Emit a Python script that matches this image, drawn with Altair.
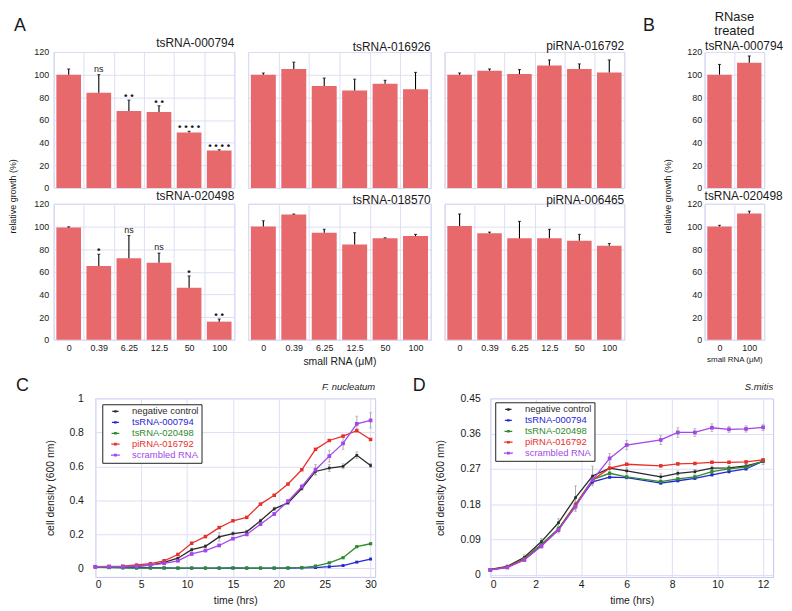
import altair as alt
import pandas as pd

FONT = "Liberation Sans"
BAR_COLOR = "#e8696b"
FRAME = "#c6c6ef"
GRID = "#dedef6"
TXT = "#1a1a1a"

# ---------------- Panel A / B data ----------------
conc = ["0", "0.39", "6.25", "12.5", "50", "100"]
conc_b = ["0", "100"]
y_ticks = [0, 20, 40, 60, 80, 100, 120]

t000794_vals = [100, 84, 68, 67, 49, 33]
t000794_err = [5, 16, 9.5, 5.5, 1, 0.7]
t000794_sig = ["", "ns", "• •", "• •", "• • • •", "• • • •"]

t016926_vals = [100, 105, 90, 86, 92, 87]
t016926_err = [1.5, 6, 7, 10, 3, 15]

p016792_vals = [100, 103.5, 100.5, 108, 105, 102]
p016792_err = [1.5, 1.5, 4, 5, 4.5, 11]

t020498_vals = [99, 65, 72, 68, 46, 16]
t020498_err = [0.7, 10.5, 20, 8.5, 10.3, 2.3]
t020498_sig = ["", "•", "ns", "ns", "•", "• •"]

t018570_vals = [100, 110.5, 94.5, 84, 89.5, 91.5]
t018570_err = [5, 0.5, 3, 10.5, 0.5, 1.5]

p006465_vals = [100.5, 94, 89.5, 89.5, 87.5, 83]
p006465_err = [10.5, 1, 15, 8, 5.5, 2]

b000794_vals = [100, 110.5]
b000794_err = [9, 6]
b020498_vals = [100, 111.5]
b020498_err = [1, 2]

# ---------------- Panel C / D data ----------------
series = ["negative control", "tsRNA-000794", "tsRNA-020498", "piRNA-016792", "scrambled RNA"]
series_colors = ["#2a2a2a", "#2626d6", "#2e8b2e", "#e8302a", "#a347e8"]
point_sizes = [7, 14, 7, 14, 8]

c_time = [0, 1.5, 3, 4.5, 6, 7.5, 9, 10.5, 12, 13.5, 15, 16.5, 18, 19.5, 21, 22.5, 24, 25.5, 27, 28.5, 30]
c_neg = [0.01, 0.008, 0.008, 0.012, 0.02, 0.035, 0.06, 0.11, 0.13, 0.185, 0.205, 0.215, 0.28, 0.35, 0.385, 0.47, 0.57, 0.59, 0.60, 0.665, 0.605]
c_t000794 = [0.01, 0.007, 0.005, 0.004, 0.004, 0.003, 0.002, 0.002, 0.002, 0.002, 0.003, 0.002, 0.002, 0.002, 0.002, 0.003, 0.005, 0.01, 0.017, 0.037, 0.055]
c_t020498 = [0.008, 0.005, 0.003, 0.002, 0.002, 0.002, 0.002, 0.002, 0.002, 0.002, 0.002, 0.002, 0.002, 0.002, 0.003, 0.005, 0.014, 0.033, 0.063, 0.128, 0.145]
c_p016792 = [0.01, 0.012, 0.013, 0.02, 0.028, 0.045, 0.082, 0.148, 0.187, 0.24, 0.28, 0.30, 0.378, 0.43, 0.496, 0.58, 0.70, 0.752, 0.778, 0.81, 0.758]
c_scram = [0.01, 0.01, 0.01, 0.013, 0.02, 0.03, 0.045, 0.085, 0.105, 0.135, 0.175, 0.20, 0.26, 0.32, 0.395, 0.48, 0.58, 0.66, 0.735, 0.85, 0.87]
c_neg_err = [0.002, 0.002, 0.002, 0.002, 0.003, 0.004, 0.005, 0.01, 0.01, 0.025, 0.01, 0.01, 0.01, 0.01, 0.01, 0.01, 0.02, 0.02, 0.015, 0.02, 0.012]
c_t000794_err = [0.002] * 21
c_t020498_err = [0.002] * 21
c_p016792_err = [0.002, 0.002, 0.002, 0.002, 0.003, 0.003, 0.004, 0.005, 0.005, 0.005, 0.005, 0.005, 0.005, 0.005, 0.005, 0.005, 0.005, 0.005, 0.005, 0.008, 0.006]
c_scram_err = [0.002, 0.002, 0.002, 0.002, 0.003, 0.003, 0.004, 0.005, 0.005, 0.005, 0.005, 0.005, 0.005, 0.008, 0.01, 0.015, 0.03, 0.035, 0.035, 0.045, 0.045]

d_time = [0, 0.75, 1.5, 2.25, 3, 3.75, 4.5, 5.25, 6, 7.5, 8.25, 9, 9.75, 10.5, 11.25, 12]
d_neg = [0.014, 0.022, 0.045, 0.085, 0.133, 0.197, 0.252, 0.272, 0.265, 0.25, 0.259, 0.263, 0.272, 0.273, 0.278, 0.289]
d_t000794 = [0.013, 0.02, 0.04, 0.077, 0.115, 0.178, 0.237, 0.249, 0.248, 0.234, 0.24, 0.246, 0.255, 0.263, 0.27, 0.29]
d_t020498 = [0.013, 0.02, 0.042, 0.078, 0.118, 0.18, 0.243, 0.259, 0.25, 0.238, 0.245, 0.25, 0.263, 0.27, 0.275, 0.29]
d_p016792 = [0.013, 0.02, 0.04, 0.074, 0.115, 0.178, 0.242, 0.272, 0.282, 0.278, 0.283, 0.284, 0.287, 0.287, 0.288, 0.293]
d_scram = [0.0127, 0.019, 0.038, 0.074, 0.115, 0.174, 0.242, 0.297, 0.331, 0.344, 0.363, 0.363, 0.375, 0.371, 0.372, 0.376]
d_neg_err = [0.002, 0.004, 0.006, 0.008, 0.01, 0.03, 0.025, 0.01, 0.008, 0.008, 0.006, 0.006, 0.006, 0.006, 0.006, 0.008]
d_t000794_err = [0.003] * 16
d_t020498_err = [0.003] * 16
d_p016792_err = [0.003] * 16
d_scram_err = [0.002, 0.003, 0.004, 0.006, 0.008, 0.012, 0.01, 0.012, 0.012, 0.012, 0.012, 0.01, 0.01, 0.008, 0.008, 0.008]


# ---------------- helpers ----------------
def bar_panel(title, cats, vals, errs, sigs, width, xaxis, yaxis, anchor, offset, tsize=12, baseline="alphabetic", lh=14):
    df = pd.DataFrame({"conc": cats, "value": vals, "err": errs, "sig": sigs})
    df["top"] = df["value"] + df["err"]
    base = alt.Chart(df)
    xsc = alt.Scale(paddingInner=0, paddingOuter=0)
    ysc = alt.Scale(domain=[0, 120], nice=False)
    x = alt.X("conc:N", sort=cats, scale=xsc, axis=xaxis)
    bars = base.mark_bar(color=BAR_COLOR, width=alt.RelativeBandSize(0.82)).encode(
        x=x, y=alt.Y("value:Q", scale=ysc, axis=yaxis))
    rule = base.mark_rule(color="#000", strokeWidth=1.1).encode(
        x=x, y=alt.Y("value:Q", scale=ysc, axis=yaxis), y2="top:Q")
    cap = base.mark_tick(color="#000", thickness=1.1, size=3, orient="horizontal").encode(
        x=x, y=alt.Y("top:Q", scale=ysc, axis=yaxis))
    dots = base.transform_filter("datum.sig != 'ns'").mark_text(
        font=FONT, fontSize=10, fontWeight="bold", baseline="alphabetic", dy=-1, color=TXT).encode(
        x=x, y=alt.Y("top:Q", scale=ysc, axis=yaxis), text="sig:N")
    ns = base.transform_filter("datum.sig == 'ns'").mark_text(
        font=FONT, fontSize=9, baseline="alphabetic", dy=-3, color=TXT).encode(
        x=x, y=alt.Y("top:Q", scale=ysc, axis=yaxis), text="sig:N")
    return alt.layer(bars, rule, cap, dots, ns).properties(
        width=width, height=137,
        title=alt.TitleParams(title, anchor=anchor, frame="group", offset=offset, baseline=baseline,
                              fontSize=tsize, fontWeight="normal", font=FONT, color=TXT,
                              lineHeight=lh, dy=lh))


def y_lab(**kw):
    return alt.Axis(values=y_ticks, labels=True, labelFontSize=9, labelPadding=5, grid=True,
                    labelOverlap=False, **kw)


def y_nolab():
    return alt.Axis(values=y_ticks, labels=False, title=None, grid=True)


def x_top(**kw):
    return alt.Axis(orient="top", labels=False, grid=True, tickBand="extent", **kw)


def x_bottom(**kw):
    return alt.Axis(orient="bottom", labelAngle=0, labelFontSize=9, labelPadding=4, grid=True,
                    tickBand="extent", **kw)


def spacer(w, h, label=None, dx=0, offset=0):
    ch = alt.Chart(pd.DataFrame({"s": [0]})).mark_point(opacity=0)
    props = dict(width=w, height=h, view=alt.ViewBackground(stroke="transparent"))
    if label is not None:
        props["title"] = alt.TitleParams(label, anchor="start", frame="group", dx=dx, offset=offset,
                                         baseline="alphabetic", fontSize=18, fontWeight="normal",
                                         font=FONT, color=TXT, lineHeight=18, dy=18)
    return ch.properties(**props)


def ytitle_spacer(w, h, text, tx):
    # thin empty cell between the two bar rows; its y-axis title is centred on it
    return alt.Chart(pd.DataFrame({"s": [0]})).mark_point(opacity=0).encode(
        y=alt.Y("s:Q", axis=alt.Axis(labels=False, grid=False, title=text, titleX=tx, titleAngle=270,
                                     titleBaseline="bottom", titleAlign="center", titleFontSize=9))
    ).properties(width=w, height=h, view=alt.ViewBackground(stroke="transparent"))


label_expr = ("datum.value == 'negative control' ? '%s' : datum.value == 'tsRNA-000794' ? '%s' : "
              "datum.value == 'tsRNA-020498' ? '%s' : datum.value == 'piRNA-016792' ? '%s' : '%s'"
              % tuple(series_colors))
SYMBOL = "M-2.4,0L2.4,0M-0.4,-0.4L0.4,-0.4L0.4,0.4L-0.4,0.4Z"


def growth_panel(time, vals, errs, xdomain, xticks, ydomain, yticks, yfmt, width, title, lx, ly,
                 ytitle_x, ylab_pad):
    rows = []
    for name, v_list, e_list in zip(series, vals, errs):
        for t, v, e in zip(time, v_list, e_list):
            rows.append({"time": t, "value": v, "err": e, "series": name})
    df = pd.DataFrame(rows)
    df["lo"] = df["value"] - df["err"]
    df["hi"] = df["value"] + df["err"]
    base = alt.Chart(df)
    xsc = alt.Scale(domain=xdomain, nice=False, zero=False)
    ysc = alt.Scale(domain=ydomain, nice=False, zero=False)
    xax = alt.Axis(values=xticks, format="d", title="time (hrs)", labelFontSize=10.5, labelPadding=3,
                   titleFontSize=10.5, titlePadding=5, grid=True, labelOverlap=False)
    yax = alt.Axis(values=yticks, format=yfmt, title="cell density (600 nm)", labelFontSize=10.5,
                   labelPadding=ylab_pad, titleFontSize=10.5, titleX=ytitle_x, titleAngle=270,
                   titleBaseline="bottom", grid=True, labelOverlap=False)
    x = alt.X("time:Q", scale=xsc, axis=xax)
    cscale = alt.Scale(domain=series, range=series_colors)
    legend = alt.Legend(title=None, orient="none", legendX=lx, legendY=ly, fillColor="white",
                        strokeColor="#222", padding=2.5, rowPadding=0, labelFontSize=9.5, labelFont=FONT,
                        symbolType=SYMBOL, symbolSize=64, symbolStrokeWidth=1.3, symbolOffset=6,
                        labelOffset=12, labelColor={"expr": label_expr})
    err_rule = base.mark_rule(color="#9a9a9a", strokeWidth=0.8).encode(
        x=x, y=alt.Y("lo:Q", scale=ysc, axis=yax), y2="hi:Q")
    cap_lo = base.mark_tick(color="#9a9a9a", thickness=0.8, size=3, orient="horizontal").encode(
        x=x, y=alt.Y("lo:Q", scale=ysc, axis=yax))
    cap_hi = base.mark_tick(color="#9a9a9a", thickness=0.8, size=3, orient="horizontal").encode(
        x=x, y=alt.Y("hi:Q", scale=ysc, axis=yax))
    lines = base.mark_line(strokeWidth=1.3).encode(
        x=x, y=alt.Y("value:Q", scale=ysc, axis=yax),
        color=alt.Color("series:N", scale=cscale, legend=legend))
    pts = base.mark_point(filled=True, shape="square", opacity=1).encode(
        x=x, y=alt.Y("value:Q", scale=ysc, axis=yax),
        color=alt.Color("series:N", scale=cscale, legend=None),
        size=alt.Size("series:N", scale=alt.Scale(domain=series, range=point_sizes), legend=None))
    return alt.layer(err_rule, cap_lo, cap_hi, lines, pts).properties(
        width=width, height=180,
        title=alt.TitleParams(title, anchor="end", frame="group", offset=4, baseline="alphabetic",
                              fontSize=9.5, fontStyle="italic", fontWeight="normal", font=FONT, color=TXT,
                              lineHeight=10, dy=10))


# ---------------- panels ----------------
A1 = bar_panel("tsRNA-000794", conc, t000794_vals, t000794_err, t000794_sig, 182,
               x_top(title=None), y_lab(title=None), "end", 3)
A2 = bar_panel("tsRNA-016926", conc, t016926_vals, t016926_err, [""] * 6, 184, x_top(title=None), y_nolab(), "end", 3)
A3 = bar_panel("piRNA-016792", conc, p016792_vals, p016792_err, [""] * 6, 181, x_top(title=None), y_nolab(), "end", 3)
B1 = bar_panel(["RNase", "treated"], conc_b, b000794_vals, b000794_err, ["", ""], 60,
               x_top(title="tsRNA-000794", titleX=0, titleY=-3, titleAngle=0, titleAlign="left",
                     titleBaseline="alphabetic", titleFontSize=12),
               alt.Axis(values=y_ticks, labels=True, labelFontSize=9, labelPadding=3, grid=True,
                        labelOverlap=False, title=None),
               "middle", 2, tsize=13, baseline="bottom", lh=14)

A4 = bar_panel("tsRNA-020498", conc, t020498_vals, t020498_err, t020498_sig, 182,
               x_bottom(title=None), y_lab(title=None), "end", 2)
A5 = bar_panel("tsRNA-018570", conc, t018570_vals, t018570_err, [""] * 6, 184,
               x_bottom(title="small RNA (μM)", titleFontSize=10.5, titlePadding=4), y_nolab(), "end", 2)
A6 = bar_panel("piRNA-006465", conc, p006465_vals, p006465_err, [""] * 6, 181,
               x_bottom(title=None), y_nolab(), "end", 2)
B2 = bar_panel("tsRNA-020498", conc_b, b020498_vals, b020498_err, ["", ""], 60,
               x_bottom(title="small RNA (μM)", titleFontSize=8, titlePadding=3),
               alt.Axis(values=y_ticks, labels=True, labelFontSize=9, labelPadding=3, grid=True,
                        labelOverlap=False, title=None),
               "start", 2)

C = growth_panel(c_time, [c_neg, c_t000794, c_t020498, c_p016792, c_scram],
                 [c_neg_err, c_t000794_err, c_t020498_err, c_p016792_err, c_scram_err],
                 [0, 30.5], [0, 5, 10, 15, 20, 25, 30], [-0.05, 1.0], [0, 0.2, 0.4, 0.6, 0.8, 1], ".1~f",
                 282, "F. nucleatum", 7, 6, -40, 12)
D = growth_panel(d_time, [d_neg, d_t000794, d_t020498, d_p016792, d_scram],
                 [d_neg_err, d_t000794_err, d_t020498_err, d_p016792_err, d_scram_err],
                 [0, 12.44], [0, 2, 4, 6, 8, 10, 12], [-0.005, 0.45], [0, 0.09, 0.18, 0.27, 0.36, 0.45], ".2~f",
                 285, "S.mitis", 5, 4, -45, 10)

top_block = alt.concat(
    spacer(26, 137, "A", dx=0, offset=21), A1, A2, A3, spacer(53, 137, "B", dx=5, offset=21), B1,
    ytitle_spacer(26, 1, "relative growth (%)", 4), spacer(1, 1), spacer(1, 1), spacer(1, 1), spacer(1, 1),
    ytitle_spacer(60, 1, "relative growth (%)", -32),
    spacer(26, 137), A4, A5, A6, spacer(53, 137), B2,
    columns=6, spacing={"row": 7.5, "column": 14}, bounds="flush",
)

bottom_block = alt.hconcat(
    spacer(68, 180, "C", dx=2, offset=7), C, spacer(88, 180, "D", dx=24, offset=7), D,
    spacing=14, bounds="flush",
).resolve_scale(color="independent", size="independent")

chart = alt.vconcat(top_block, bottom_block, spacing=9, padding=0).configure(font=FONT).configure_view(
    stroke=FRAME, strokeWidth=1
).configure_axis(
    gridColor=GRID, gridWidth=1, domain=False, ticks=False, labelFont=FONT, titleFont=FONT,
    labelColor=TXT, titleColor=TXT, titleFontWeight="normal"
).configure_title(font=FONT, fontWeight="normal", color=TXT)

chart.save("out.html", embed_options={"renderer": "svg", "actions": False})
